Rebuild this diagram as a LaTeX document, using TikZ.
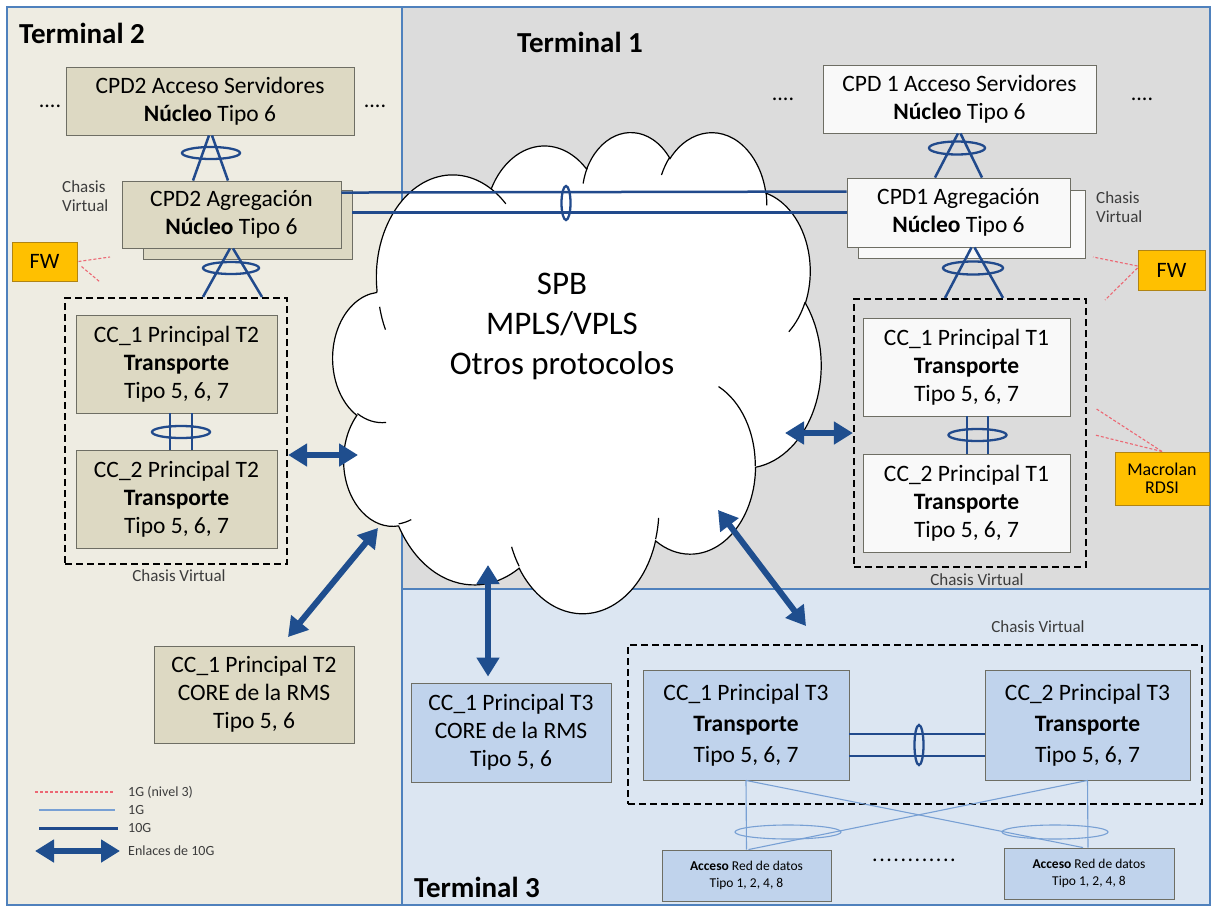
\documentclass[tikz,border=0pt]{standalone}
\usepackage{fontspec}
\setmainfont{Carlito}
\usetikzlibrary{arrows.meta,calc}

\definecolor{panelblue}{RGB}{79,129,189}
\definecolor{tanbg}{RGB}{238,236,226}
\definecolor{tanfill}{RGB}{221,217,195}
\definecolor{greybg}{RGB}{220,220,220}
\definecolor{greyfill}{RGB}{249,249,249}
\definecolor{bluebg}{RGB}{220,230,242}
\definecolor{bluefill}{RGB}{192,211,236}
\definecolor{boxline}{RGB}{110,110,100}
\definecolor{linkblue}{RGB}{33,74,140}
\definecolor{arrowblue}{RGB}{31,78,142}
\definecolor{thinblue}{RGB}{120,160,212}
\definecolor{lthreered}{RGB}{236,104,116}
\definecolor{fwfill}{RGB}{255,192,0}
\definecolor{fwline}{RGB}{176,132,20}
\definecolor{labelgrey}{RGB}{60,60,60}

% Cloud outline: each bump is an elliptic arc given by radii, start angle and sweep
% (angles measured as seen from the centre, y pointing down); converted here to
% TikZ parametric arcs.
\pgfmathsetmacro\cldsx{488/432}
\pgfmathsetmacro\cldsy{481/432}
\newcommand\cldprep[5]{%
  \pgfmathsetmacro\cldts{atan2((#2)*sin(#4),(#3)*cos(#4))}%
  \pgfmathsetmacro\cldte{atan2((#2)*sin((#4)+(#5)),(#3)*cos((#4)+(#5)))}%
  \pgfmathsetmacro\cldte{(#5)>0 ? (\cldte<\cldts ? \cldte+360 : \cldte) : (\cldte>\cldts ? \cldte-360 : \cldte)}%
  \pgfmathsetmacro\cldrx{(#2)*\cldsx}%
  \pgfmathsetmacro\cldry{(#3)*\cldsy}%
  \pgfmathsetmacro\cldsa{-\cldts}%
  \pgfmathsetmacro\cldea{-\cldte}%
  \xdef#1{arc[start angle=\cldsa, end angle=\cldea, x radius=\cldrx pt, y radius=\cldry pt]}%
}
\cldprep\cloudarcA{67.53}{91.90}{-190.48748}{123.78053}
\cldprep\cloudarcB{53.33}{72.67}{-144.10238}{89.94523}
\cldprep\cloudarcC{43.65}{59.45}{-145.80792}{99.72302}
\cldprep\cloudarcD{48.57}{65.95}{-130.98607}{117.24173}
\cldprep\cloudarcE{53.33}{72.73}{-78.70888}{109.02692}
\cldprep\cloudarcF{67.75}{92.20}{-46.26725}{130.269}
\cldprep\cloudarcG{57.85}{78.67}{0.62502}{114.03333}
\cldprep\cloudarcH{67.52}{92.15}{22.4516}{115.17255}
\cldprep\cloudarcI{77.20}{105.43}{66.24263}{75.71102}
\cldprep\cloudarcJ{43.60}{59.18}{-274.94208}{146.73557}
\cldprep\cloudarcK{43.45}{59.45}{-246.8285}{152.51885}
% inner creases of the cloud
\cldprep\creaseA{43.45}{59.45}{86.742}{26.4295}
\cldprep\creaseB{43.60}{59.18}{73.61047}{11.44747}
\cldprep\creaseC{67.52}{92.15}{137.62415}{14.0811}
\cldprep\creaseD{67.52}{92.15}{6.45327}{15.99835}
\cldprep\creaseE{57.85}{78.67}{-70.29235}{70.91737}
\cldprep\creaseF{53.33}{72.73}{30.31803}{27.7515}
\cldprep\creaseG{48.57}{65.95}{-13.74433}{14.8589}
\cldprep\creaseH{48.57}{65.95}{-149.18145}{18.19537}
\cldprep\creaseI{43.65}{59.45}{-163.49427}{17.68635}
\cldprep\creaseJ{67.53}{91.90}{-66.70695}{12.31935}
\cldprep\creaseK{67.53}{91.90}{163.73518}{-16.88628}

\tikzset{
  panel/.style={draw=panelblue, line width=1.5pt},
  termlabel/.style={inner sep=0pt, font=\fontsize{29}{32}\selectfont\bfseries},
  devbox/.style={draw=boxline, line width=0.9pt, inner sep=0pt, align=center,
    font=\fontsize{23.5}{28}\selectfont},
  tanbox/.style={devbox, fill=tanfill},
  greybox/.style={devbox, fill=greyfill},
  bluebox/.style={devbox, fill=bluefill},
  accbox/.style={bluebox, font=\fontsize{13.5}{17}\selectfont},
  fwbox/.style={draw=fwline, line width=1pt, fill=fwfill, inner sep=0pt, align=center},
  vchassis/.style={draw=black, line width=2.2pt, dash pattern=on 7pt off 4pt, inner sep=0pt},
  smalllabel/.style={inner sep=0pt, text=labelgrey, font=\fontsize{17}{19}\selectfont},
  legendlabel/.style={inner sep=0pt, anchor=west, text=labelgrey, font=\fontsize{14}{15}\selectfont},
  dotsrow/.style={inner sep=0pt, font=\fontsize{22}{24}\selectfont},
  cloudedge/.style={draw=black, line width=1.2pt},
  cloudtext/.style={align=center, inner sep=0pt, font=\fontsize{33}{40}\selectfont},
  link10/.style={draw=linkblue, line width=2.5pt},
  lagring/.style={draw=linkblue, line width=2.3pt},
  link1/.style={draw=thinblue, line width=1.1pt},
  link3/.style={draw=lthreered, line width=1.1pt, dash pattern=on 3pt off 2pt},
  bigarrow/.style={draw=arrowblue, line width=6pt,
    {Triangle[width=22pt,length=19pt]}-{Triangle[width=22pt,length=19pt]}},
}

\begin{document}
\begin{tikzpicture}[x=1pt,y=-1pt]
\useasboundingbox (0,0) rectangle (1213,908);
\fill[white] (0,0) rectangle (1213,908);

% ---- the three terminal areas
\path[panel, fill=tanbg] (7,7) rectangle (402,905);
\path[panel, fill=greybg] (402,7) rectangle (1210,589);
\path[panel, fill=bluebg] (402,589) rectangle (1210,905);

\node[termlabel, anchor=west] (t2lab) at (19,33) {Terminal 2};
\node[termlabel, anchor=west] (t1lab) at (517,42) {Terminal 1};
\node[termlabel, anchor=west] (t3lab) at (414,887) {Terminal 3};

% ---- backbone cloud
\begin{scope}[shift={(333,131)}, x=\cldsx pt, y=-\cldsy pt]
  \draw[cloudedge, fill=white] (39.00,143.70) \cloudarcA \cloudarcB \cloudarcC
    \cloudarcD \cloudarcE \cloudarcF \cloudarcG \cloudarcH \cloudarcI
    \cloudarcJ \cloudarcK -- cycle;
  \draw[cloudedge]
    (46.93,261.77) \creaseA
    (69.28,348.99) \creaseB
    (164.78,390.90) \creaseC
    (288.27,347.51) \creaseD
    (341.29,229.54) \creaseE
    (417.98,153.54) \creaseF
    (383.24,54.26) \creaseG
    (290.78,39.52) \creaseH
    (221.41,47.20) \creaseI
    (140.00,51.92) \creaseJ
    (41.27,157.89) \creaseK;
\end{scope}
\node[cloudtext] (proto) at (562,326) {SPB\\MPLS/VPLS\\Otros protocolos};

% ---- Terminal 2
\node[tanbox, minimum width=288pt, minimum height=68pt] (cpd2acc) at (210,101)
  {CPD2 Acceso Servidores\\\textbf{Núcleo} Tipo 6};
\node[tanbox, minimum width=209pt, minimum height=69pt] (cpd2aggB) at (247.5,224.5) {};
\node[tanbox, minimum width=219pt, minimum height=67pt] (cpd2agg) at (231.5,214.5)
  {CPD2 Agregación\\\textbf{Núcleo} Tipo 6};
\node[smalllabel, anchor=west, align=left] (cv2top) at (62,196) {Chasis\\Virtual};
\node[fwbox, minimum width=65pt, minimum height=39pt, font=\fontsize{22}{24}\selectfont] (fw2) at (44.5,261.5) {FW};
\node[vchassis, minimum width=222pt, minimum height=266pt] (cv2) at (176,431) {};
\node[tanbox, minimum width=201pt, minimum height=98pt] (cc1t2) at (176.5,364)
  {CC\_1 Principal T2\\\textbf{Transporte}\\Tipo 5, 6, 7};
\node[tanbox, minimum width=201pt, minimum height=98pt] (cc2t2) at (176.5,499)
  {CC\_2 Principal T2\\\textbf{Transporte}\\Tipo 5, 6, 7};
\node[smalllabel] (cv2lab) at (179,576) {Chasis Virtual};
\node[tanbox, minimum width=200pt, minimum height=97pt] (core2) at (254,694.5)
  {CC\_1 Principal T2\\CORE de la RMS\\Tipo 5, 6};
\node[dotsrow] (dots2l) at (50,106) {....};
\node[dotsrow] (dots2r) at (375,106) {....};

% ---- Terminal 1
\node[greybox, minimum width=273pt, minimum height=68pt] (cpd1acc) at (959.5,99)
  {CPD 1 Acceso Servidores\\\textbf{Núcleo} Tipo 6};
\node[greybox, minimum width=227pt, minimum height=68pt] (cpd1aggB) at (971.5,224) {};
\node[greybox, minimum width=223pt, minimum height=69pt] (cpd1agg) at (958.5,212.5)
  {CPD1 Agregación\\\textbf{Núcleo} Tipo 6};
\node[smalllabel, anchor=west, align=left] (cv1top) at (1096,207) {Chasis\\Virtual};
\node[fwbox, minimum width=67pt, minimum height=40pt, font=\fontsize{22}{24}\selectfont] (fw1) at (1171.5,270) {FW};
\node[vchassis, minimum width=232pt, minimum height=268pt] (cv1) at (970,433) {};
\node[greybox, minimum width=207pt, minimum height=98pt] (cc1t1) at (966.5,367)
  {CC\_1 Principal T1\\\textbf{Transporte}\\Tipo 5, 6, 7};
\node[greybox, minimum width=207pt, minimum height=98pt] (cc2t1) at (966.5,503)
  {CC\_2 Principal T1\\\textbf{Transporte}\\Tipo 5, 6, 7};
\node[smalllabel] (cv1lab) at (977,580) {Chasis Virtual};
\node[fwbox, minimum width=94pt, minimum height=53pt, font=\fontsize{18}{18}\selectfont] (macro) at (1162,478.5) {Macrolan\\RDSI};
\node[dotsrow] (dots1l) at (783,99) {....};
\node[dotsrow] (dots1r) at (1142,99) {....};

% ---- Terminal 3
\node[bluebox, minimum width=200pt, minimum height=99pt] (core3) at (511,732.5)
  {CC\_1 Principal T3\\CORE de la RMS\\Tipo 5, 6};
\node[vchassis, minimum width=574pt, minimum height=159pt] (cv3) at (915,724.5) {};
\node[smalllabel] (cv3lab) at (1038,627) {Chasis Virtual};
\node[bluebox, minimum width=206pt, minimum height=110pt, font=\fontsize{23.5}{31}\selectfont] (cc1t3) at (746,725)
  {CC\_1 Principal T3\\\textbf{Transporte}\\Tipo 5, 6, 7};
\node[bluebox, minimum width=205pt, minimum height=110pt, font=\fontsize{23.5}{31}\selectfont] (cc2t3) at (1087.5,725)
  {CC\_2 Principal T3\\\textbf{Transporte}\\Tipo 5, 6, 7};
\node[accbox, minimum width=169pt, minimum height=51pt] (acc1) at (746.5,875.5)
  {\textbf{Acceso} Red de datos\\Tipo 1, 2, 4, 8};
\node[accbox, minimum width=170pt, minimum height=51pt] (acc2) at (1089,873.5)
  {\textbf{Acceso} Red de datos\\Tipo 1, 2, 4, 8};
\node[dotsrow, font=\fontsize{22}{24}\selectfont\addfontfeature{LetterSpace=7}] (dots3) at (914,860) {............};

% ---- 10G links between the aggregation layers, across the cloud
\draw[link10] ($(cpd2agg.north east)+(0,12)$) -- ($(cpd1agg.north west)+(0,14)$);
\draw[link10] ($(cpd2aggB.north east)+(0,23)$) -- ($(cpd1agg.north west)+(0,35)$);
\draw[lagring] (566,203) ellipse[x radius=4.5pt, y radius=17pt];

% ---- link aggregation bundles (10G)
\draw[link10] ($(cpd2acc.south)+(-1,0)$) -- ($(cpd2agg.north)+(-38.5,0)$);
\draw[link10] ($(cpd2acc.south)+(2,0)$) -- ($(cpd2agg.north)+(-3.5,0)$);
\draw[lagring] (211,153) ellipse[x radius=29pt, y radius=6pt];

\draw[link10] ($(cpd2agg.south)+(-1.5,0)$) -- ($(cv2.north)+(27,0)$);
\draw[link10] ($(cpd2agg.south)+(1.5,0)$) -- ($(cv2.north)+(86,0)$);
\draw[lagring] (231,268) ellipse[x radius=28pt, y radius=6pt];

\draw[link10] ($(cc1t2.south)+(-6.5,0)$) -- ($(cc2t2.north)+(-6.5,0)$);
\draw[link10] ($(cc1t2.south)+(15.5,0)$) -- ($(cc2t2.north)+(15.5,0)$);
\draw[lagring] (181,432) ellipse[x radius=29pt, y radius=6pt];

\draw[link10] ($(cpd1acc.south)+(-1.5,0)$) -- ($(cpd1agg.north)+(-23.5,0)$);
\draw[link10] ($(cpd1acc.south)+(1,0)$) -- ($(cpd1agg.north)+(23.5,0)$);
\draw[lagring] (957,148) ellipse[x radius=28pt, y radius=6.5pt];

\draw[link10] ($(cpd1agg.south)+(13,0)$) -- ($(cv1.north)+(-25,0)$);
\draw[link10] ($(cpd1agg.south)+(16,0)$) -- ($(cv1.north)+(33,0)$);
\draw[lagring] (973,268) ellipse[x radius=30pt, y radius=6.5pt];

\draw[link10] ($(cc1t1.south)+(0.5,0)$) -- ($(cc2t1.north)+(0.5,0)$);
\draw[link10] ($(cc1t1.south)+(21.5,0)$) -- ($(cc2t1.north)+(21.5,0)$);
\draw[lagring] (977.5,435) ellipse[x radius=29pt, y radius=6pt];

\draw[link10] ($(cc1t3.east)+(0,9)$) -- ($(cc2t3.west)+(0,9)$);
\draw[link10] ($(cc1t3.east)+(0,31)$) -- ($(cc2t3.west)+(0,31)$);
\draw[lagring] (919,745) ellipse[x radius=4.5pt, y radius=20pt];

% ---- 1G links to the access switches
\draw[link1] (cc1t3.south) -- (acc1.north);
\draw[link1] (cc1t3.south) -- ($(acc2.north)+(-6,0)$);
\draw[link1] (cc2t3.south) -- ($(acc2.north)+(-1,0)$);
\draw[link1] (cc2t3.south) -- ($(acc1.north)+(2,0)$);
\draw[link1] (788,832) ellipse[x radius=53pt, y radius=7pt];
\draw[link1] (1055,832) ellipse[x radius=53pt, y radius=7pt];

% ---- level 3 links (1G)
\coordinate (fw2a) at (110,257);
\coordinate (fw2b) at (100,282);
\draw[link3] ($(fw2.east)+(1,0)$) -- (fw2a);
\draw[link3] ($(fw2.east)+(4,5)$) -- (fw2b);
\coordinate (fw1a) at (1093,257);
\coordinate (fw1b) at (1105,300);
\draw[link3] ($(fw1.west)+(0,-4)$) -- (fw1a);
\draw[link3] ($(fw1.west)+(0,-2)$) -- (fw1b);
\coordinate (mla) at (1095,408);
\coordinate (mlb) at (1095,435);
\draw[link3] (macro.north) -- (mla);
\draw[link3] (macro.north) -- (mlb);

% ---- 10G uplinks into the cloud
\coordinate (cldL) at (358,455);
\coordinate (cldLL) at (378,528);
\coordinate (cldB) at (488,565);
\coordinate (cldR) at (785,433);
\coordinate (cldRL) at (718,510);
\coordinate (core2tip) at (288,637);
\coordinate (cv3tip) at (806,626);
\draw[bigarrow] (cv2.east |- cldL) -- (cldL);
\draw[bigarrow] (cldLL) -- (core2tip);
\draw[bigarrow] (cldB) -- ($(core3.north -| cldB)+(0,-6)$);
\draw[bigarrow] (cldR) -- (cv1.west |- cldR);
\draw[bigarrow] (cldRL) -- (cv3tip);

% ---- legend
\coordinate (lg1a) at (35,792);  \coordinate (lg1b) at (113,792);
\coordinate (lg2a) at (39,810);  \coordinate (lg2b) at (115,810);
\coordinate (lg3a) at (39,828);  \coordinate (lg3b) at (118,828);
\coordinate (lg4a) at (35,851);  \coordinate (lg4b) at (120,851);
\draw[link3] (lg1a) -- (lg1b);
\draw[link1] (lg2a) -- (lg2b);
\draw[link10, line width=3pt] (lg3a) -- (lg3b);
\draw[bigarrow] (lg4a) -- (lg4b);
\node[legendlabel] (lgt1) at (128,792) {1G (nivel 3)};
\node[legendlabel] (lgt2) at (128,810) {1G};
\node[legendlabel] (lgt3) at (128,828) {10G};
\node[legendlabel] (lgt4) at (128,851) {Enlaces de 10G};
\end{tikzpicture}
\end{document}
